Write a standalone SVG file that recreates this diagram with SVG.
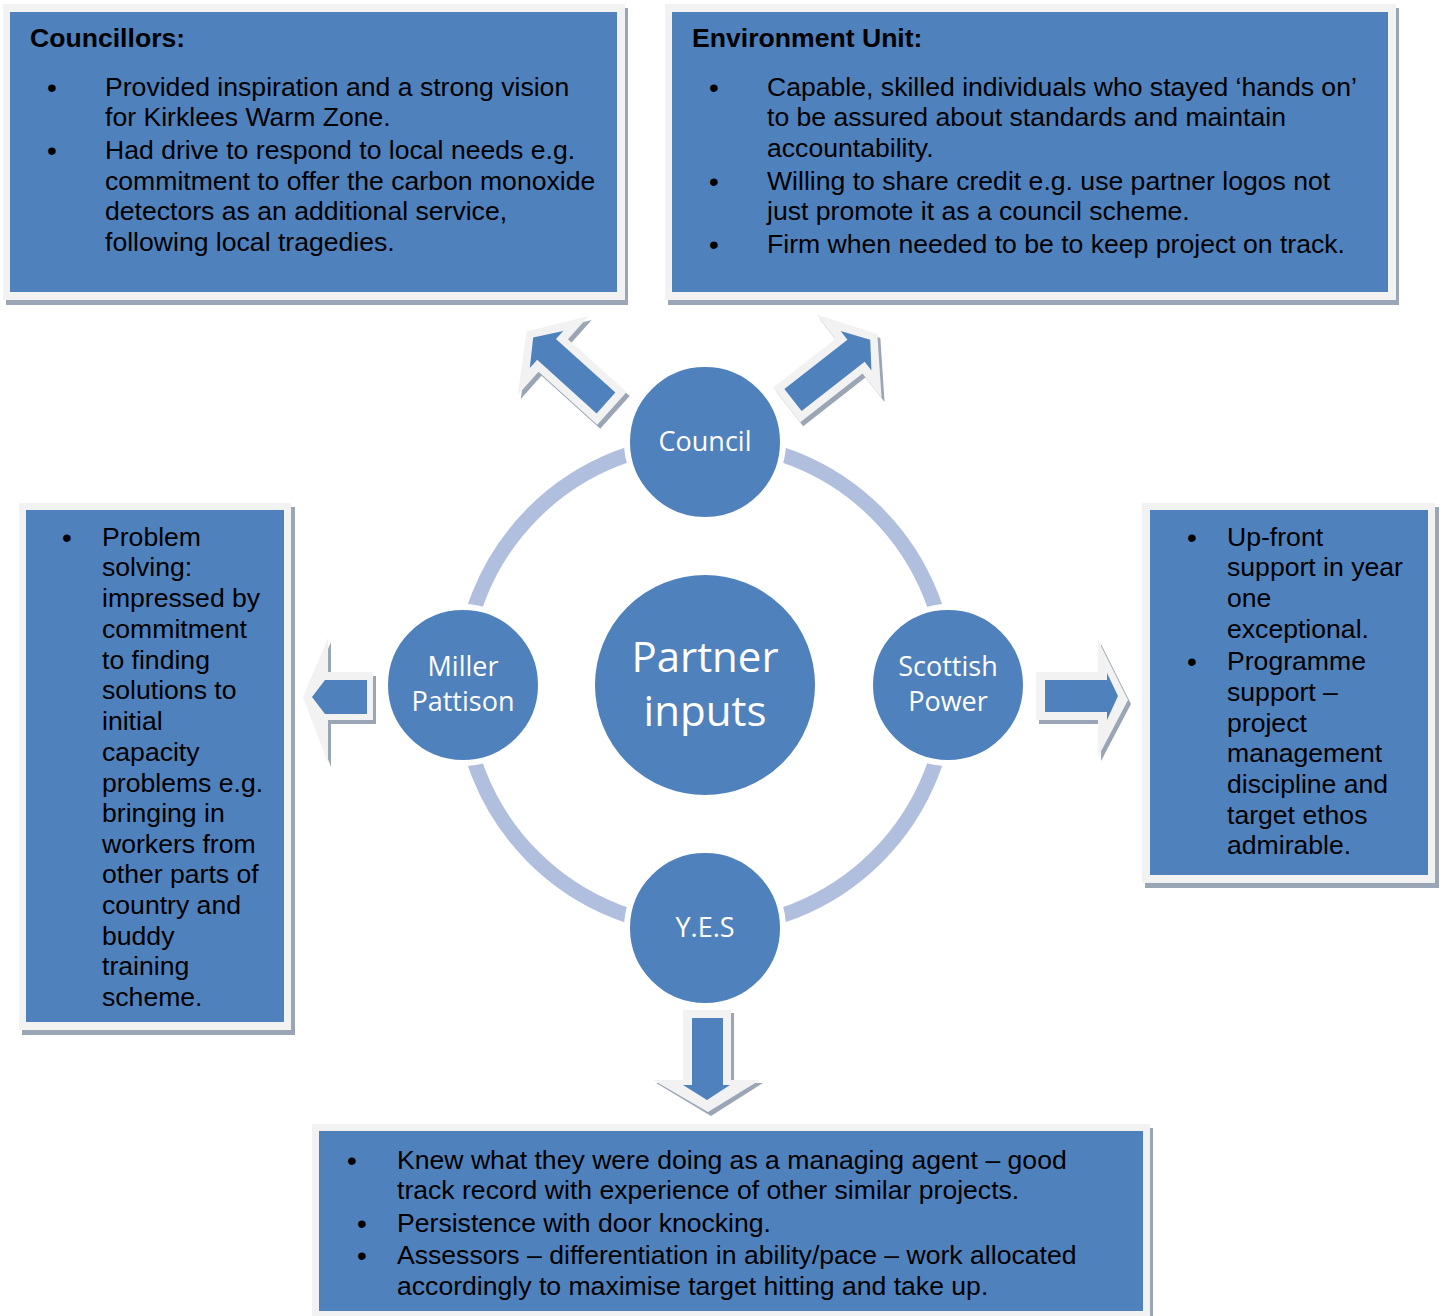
<svg xmlns="http://www.w3.org/2000/svg" width="1443" height="1316" viewBox="0 0 1443 1316">
<style>
.frame{fill:#f2f2f2}
.shadow{fill:#9aa6b6}
.blue{fill:#4f81bd}
.t{font-family:"Liberation Sans",Arial,sans-serif;font-size:26.6px;fill:#000}
.bu{font-family:"Liberation Sans",Arial,sans-serif;font-size:28px;fill:#000}
.b{font-weight:bold}
.c{font-family:"Open Sans","Noto Sans",sans-serif;fill:#fff;text-anchor:middle}
.node{fill:#4f81bd;stroke:#fff;stroke-width:6}
.ring{fill:none;stroke:#b0bfdd;stroke-width:15}
</style>
<defs>
<polygon id="dOut" points="-8,-22 71,-22 71,-53 107,0 71,53 71,22 -8,22"/>
<polygon id="dIn" points="0,-14 80,-14 80,-25 98,0 80,25 80,14 0,14"/>
</defs>
<rect width="1443" height="1316" fill="#fff"/>

<g id="connectors">
<circle class="ring" cx="705" cy="685" r="243"/>
<g transform="translate(609,407) rotate(222)"><use href="#dOut" class="shadow"/></g>
<g transform="translate(606,403) rotate(222)"><use href="#dOut" class="frame"/><use href="#dIn" class="blue"/></g>
<g transform="translate(796,404) rotate(-38)"><use href="#dOut" class="shadow"/></g>
<g transform="translate(793,400) rotate(-38)"><use href="#dOut" class="frame"/><use href="#dIn" class="blue"/></g>
<polygon class="shadow" points="376,676 331,676 331,642 306,701 331,767 331,724 376,724"/>
<polygon class="frame" points="373,672 328,672 328,638 303,697 328,763 328,720 373,720"/>
<polygon class="blue" points="367,680 325,680 312,697 325,714 367,714"/>
<polygon class="shadow" points="1039,676 1101,676 1101,644 1131,704 1101,761 1101,724 1039,724"/>
<polygon class="frame" points="1036,672 1098,672 1098,640 1128,700 1098,757 1098,720 1036,720"/>
<polygon class="blue" points="1045,680 1107,680 1107,673 1118,696 1107,720 1107,712 1045,712"/>
<polygon class="shadow" points="686,1013 734,1013 734,1083 763,1083 711,1116 656,1083 686,1083"/>
<polygon class="frame" points="683,1010 731,1010 731,1080 760,1080 708,1112 653,1080 683,1080"/>
<polygon class="blue" points="692,1018 723,1018 723,1085 730,1085 707,1100 683,1085 692,1085"/>
</g>

<g id="councillors">
<rect class="shadow" x="6" y="8" width="622" height="297"/>
<rect class="frame" x="3" y="4" width="622" height="296"/>
<rect class="blue" x="10" y="12" width="607" height="280"/>
<text class="t b" x="30" y="47">Councillors:</text>
<text class="bu" x="47" y="97">•</text>
<text class="t" x="105" y="96">Provided inspiration and a strong vision</text>
<text class="t" x="105" y="126">for Kirklees Warm Zone.</text>
<text class="bu" x="47" y="160">•</text>
<text class="t" x="105" y="159">Had drive to respond to local needs e.g.</text>
<text class="t" x="105" y="190">commitment to offer the carbon monoxide</text>
<text class="t" x="105" y="220">detectors as an additional service,</text>
<text class="t" x="105" y="251">following local tragedies.</text>
</g>

<g id="environment-unit">
<rect class="shadow" x="668" y="8" width="731" height="297"/>
<rect class="frame" x="665" y="4" width="731" height="296"/>
<rect class="blue" x="672" y="12" width="716" height="280"/>
<text class="t b" x="692" y="47">Environment Unit:</text>
<text class="bu" x="709" y="97">•</text>
<text class="t" x="767" y="96">Capable, skilled individuals who stayed ‘hands on’</text>
<text class="t" x="767" y="126">to be assured about standards and maintain</text>
<text class="t" x="767" y="157">accountability.</text>
<text class="bu" x="709" y="191">•</text>
<text class="t" x="767" y="190">Willing to share credit e.g. use partner logos not</text>
<text class="t" x="767" y="220">just promote it as a council scheme.</text>
<text class="bu" x="709" y="254">•</text>
<text class="t" x="767" y="253">Firm when needed to be to keep project on track.</text>
</g>

<g id="miller-box">
<rect class="shadow" x="22" y="507" width="273" height="528"/>
<rect class="frame" x="19" y="503" width="272" height="527"/>
<rect class="blue" x="26" y="510" width="258" height="512"/>
<text class="bu" x="62" y="547">•</text>
<text class="t" x="102" y="546">Problem</text>
<text class="t" x="102" y="576">solving:</text>
<text class="t" x="102" y="607">impressed by</text>
<text class="t" x="102" y="638">commitment</text>
<text class="t" x="102" y="669">to finding</text>
<text class="t" x="102" y="699">solutions to</text>
<text class="t" x="102" y="730">initial</text>
<text class="t" x="102" y="761">capacity</text>
<text class="t" x="102" y="792">problems e.g.</text>
<text class="t" x="102" y="822">bringing in</text>
<text class="t" x="102" y="853">workers from</text>
<text class="t" x="102" y="883">other parts of</text>
<text class="t" x="102" y="914">country and</text>
<text class="t" x="102" y="945">buddy</text>
<text class="t" x="102" y="975">training</text>
<text class="t" x="102" y="1006">scheme.</text>
</g>

<g id="scottish-box">
<rect class="shadow" x="1145" y="507" width="294" height="381"/>
<rect class="frame" x="1142" y="503" width="293" height="380"/>
<rect class="blue" x="1150" y="510" width="278" height="365"/>
<text class="bu" x="1187" y="547">•</text>
<text class="t" x="1227" y="546">Up-front</text>
<text class="t" x="1227" y="576">support in year</text>
<text class="t" x="1227" y="607">one</text>
<text class="t" x="1227" y="638">exceptional.</text>
<text class="bu" x="1187" y="671">•</text>
<text class="t" x="1227" y="670">Programme</text>
<text class="t" x="1227" y="701">support –</text>
<text class="t" x="1227" y="732">project</text>
<text class="t" x="1227" y="762">management</text>
<text class="t" x="1227" y="793">discipline and</text>
<text class="t" x="1227" y="824">target ethos</text>
<text class="t" x="1227" y="854">admirable.</text>
</g>

<g id="yes-box">
<rect class="shadow" x="315" y="1128" width="838" height="192"/>
<rect class="frame" x="312" y="1124" width="838" height="192"/>
<rect class="blue" x="319" y="1131" width="824" height="180"/>
<text class="bu" x="347" y="1170">•</text>
<text class="t" x="397" y="1169">Knew what they were doing as a managing agent – good</text>
<text class="t" x="397" y="1199">track record with experience of other similar projects.</text>
<text class="bu" x="357" y="1233">•</text>
<text class="t" x="397" y="1232">Persistence with door knocking.</text>
<text class="bu" x="357" y="1265">•</text>
<text class="t" x="397" y="1264">Assessors – differentiation in ability/pace – work allocated</text>
<text class="t" x="397" y="1295">accordingly to maximise target hitting and take up.</text>
</g>

<g id="council">
<circle class="node" cx="705" cy="442" r="78"/>
<text class="c" x="705" y="451" font-size="27">Council</text>
</g>
<g id="miller-pattison">
<circle class="node" cx="463" cy="685" r="78"/>
<text class="c" x="463" y="676" font-size="27">Miller</text>
<text class="c" x="463" y="711" font-size="27">Pattison</text>
</g>
<g id="scottish-power">
<circle class="node" cx="948" cy="685" r="78"/>
<text class="c" x="948" y="676" font-size="27">Scottish</text>
<text class="c" x="948" y="711" font-size="27">Power</text>
</g>
<g id="yes">
<circle class="node" cx="705" cy="928" r="78"/>
<text class="c" x="705" y="937" font-size="27">Y.E.S</text>
</g>
<g id="partner-inputs">
<circle class="node" cx="705" cy="685" r="113"/>
<text class="c" x="705" y="672" font-size="42">Partner</text>
<text class="c" x="705" y="726" font-size="42">inputs</text>
</g>
</svg>
